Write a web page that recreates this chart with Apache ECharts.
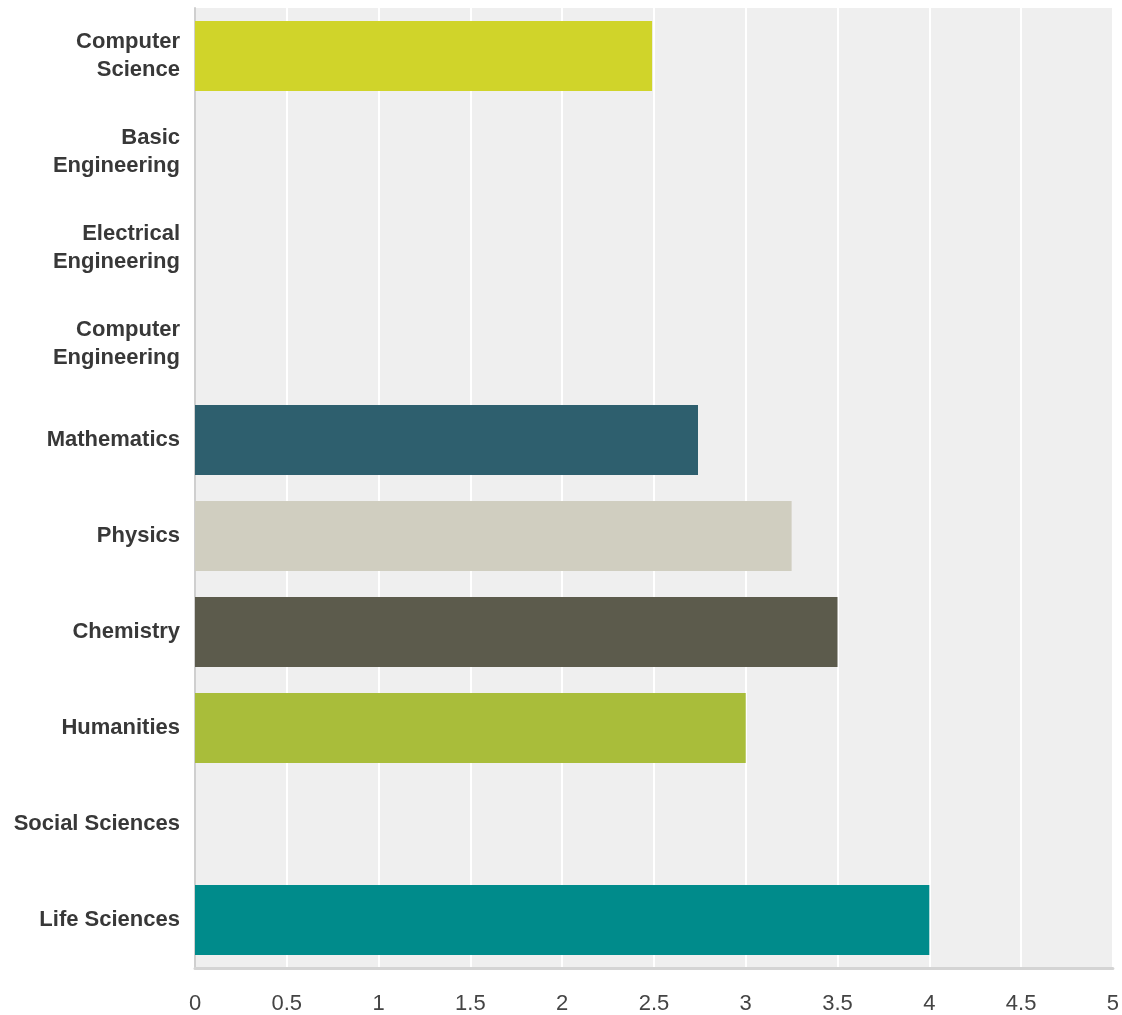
<!DOCTYPE html>
<html>
<head>
<meta charset="utf-8">
<script src="https://cdn.jsdelivr.net/npm/echarts@6/dist/echarts.min.js"></script>
<style>html,body{margin:0;padding:0;background:#fff}#c{width:1122px;height:1015px}</style>
</head>
<body>
<div id="c"></div>
<script>
const categories = ["Computer\nScience","Basic\nEngineering","Electrical\nEngineering","Computer\nEngineering","Mathematics","Physics","Chemistry","Humanities","Social Sciences","Life Sciences"];
const values = [2.49, 0, 0, 0, 2.74, 3.25, 3.5, 3.0, 0, 4.0];
const barColors = ["#d0d42a","#cccccc","#cccccc","#cccccc","#2e5f6e","#d0cec0","#5c5b4c","#a9bd3a","#cccccc","#008b8b"];
const tickMin = 0, tickMax = 5, tickStep = 0.5;

const chart = echarts.init(document.getElementById('c'));
chart.setOption({
  animation: false,
  grid: {left: 195, right: 8, top: 8, bottom: 47, show: true, backgroundColor: '#efefef', borderWidth: 0},
  xAxis: {
    type: 'value', min: tickMin, max: tickMax, interval: tickStep,
    axisLine: {show: true, lineStyle: {color: '#d4d4d4', width: 3}},
    axisTick: {show: false},
    splitLine: {show: true, lineStyle: {color: '#ffffff', width: 2}},
    axisLabel: {color: '#444', fontSize: 22, fontFamily: 'Liberation Sans, Arial, sans-serif', margin: 25}
  },
  yAxis: {
    type: 'category', data: categories, inverse: true,
    axisLine: {show: true, lineStyle: {color: '#cfcfcf', width: 2}},
    axisTick: {show: false},
    splitLine: {show: false},
    axisLabel: {color: '#383838', fontSize: 22, fontWeight: 'bold', fontFamily: 'Liberation Sans, Arial, sans-serif', lineHeight: 28, margin: 15, align: 'right', padding: [2, 0, 0, 0]}
  },
  series: [{
    type: 'bar', barCategoryGap: '27%',
    data: values.map((v, i) => ({value: v, itemStyle: {color: barColors[i]}}))
  }]
});
</script>
</body>
</html>
